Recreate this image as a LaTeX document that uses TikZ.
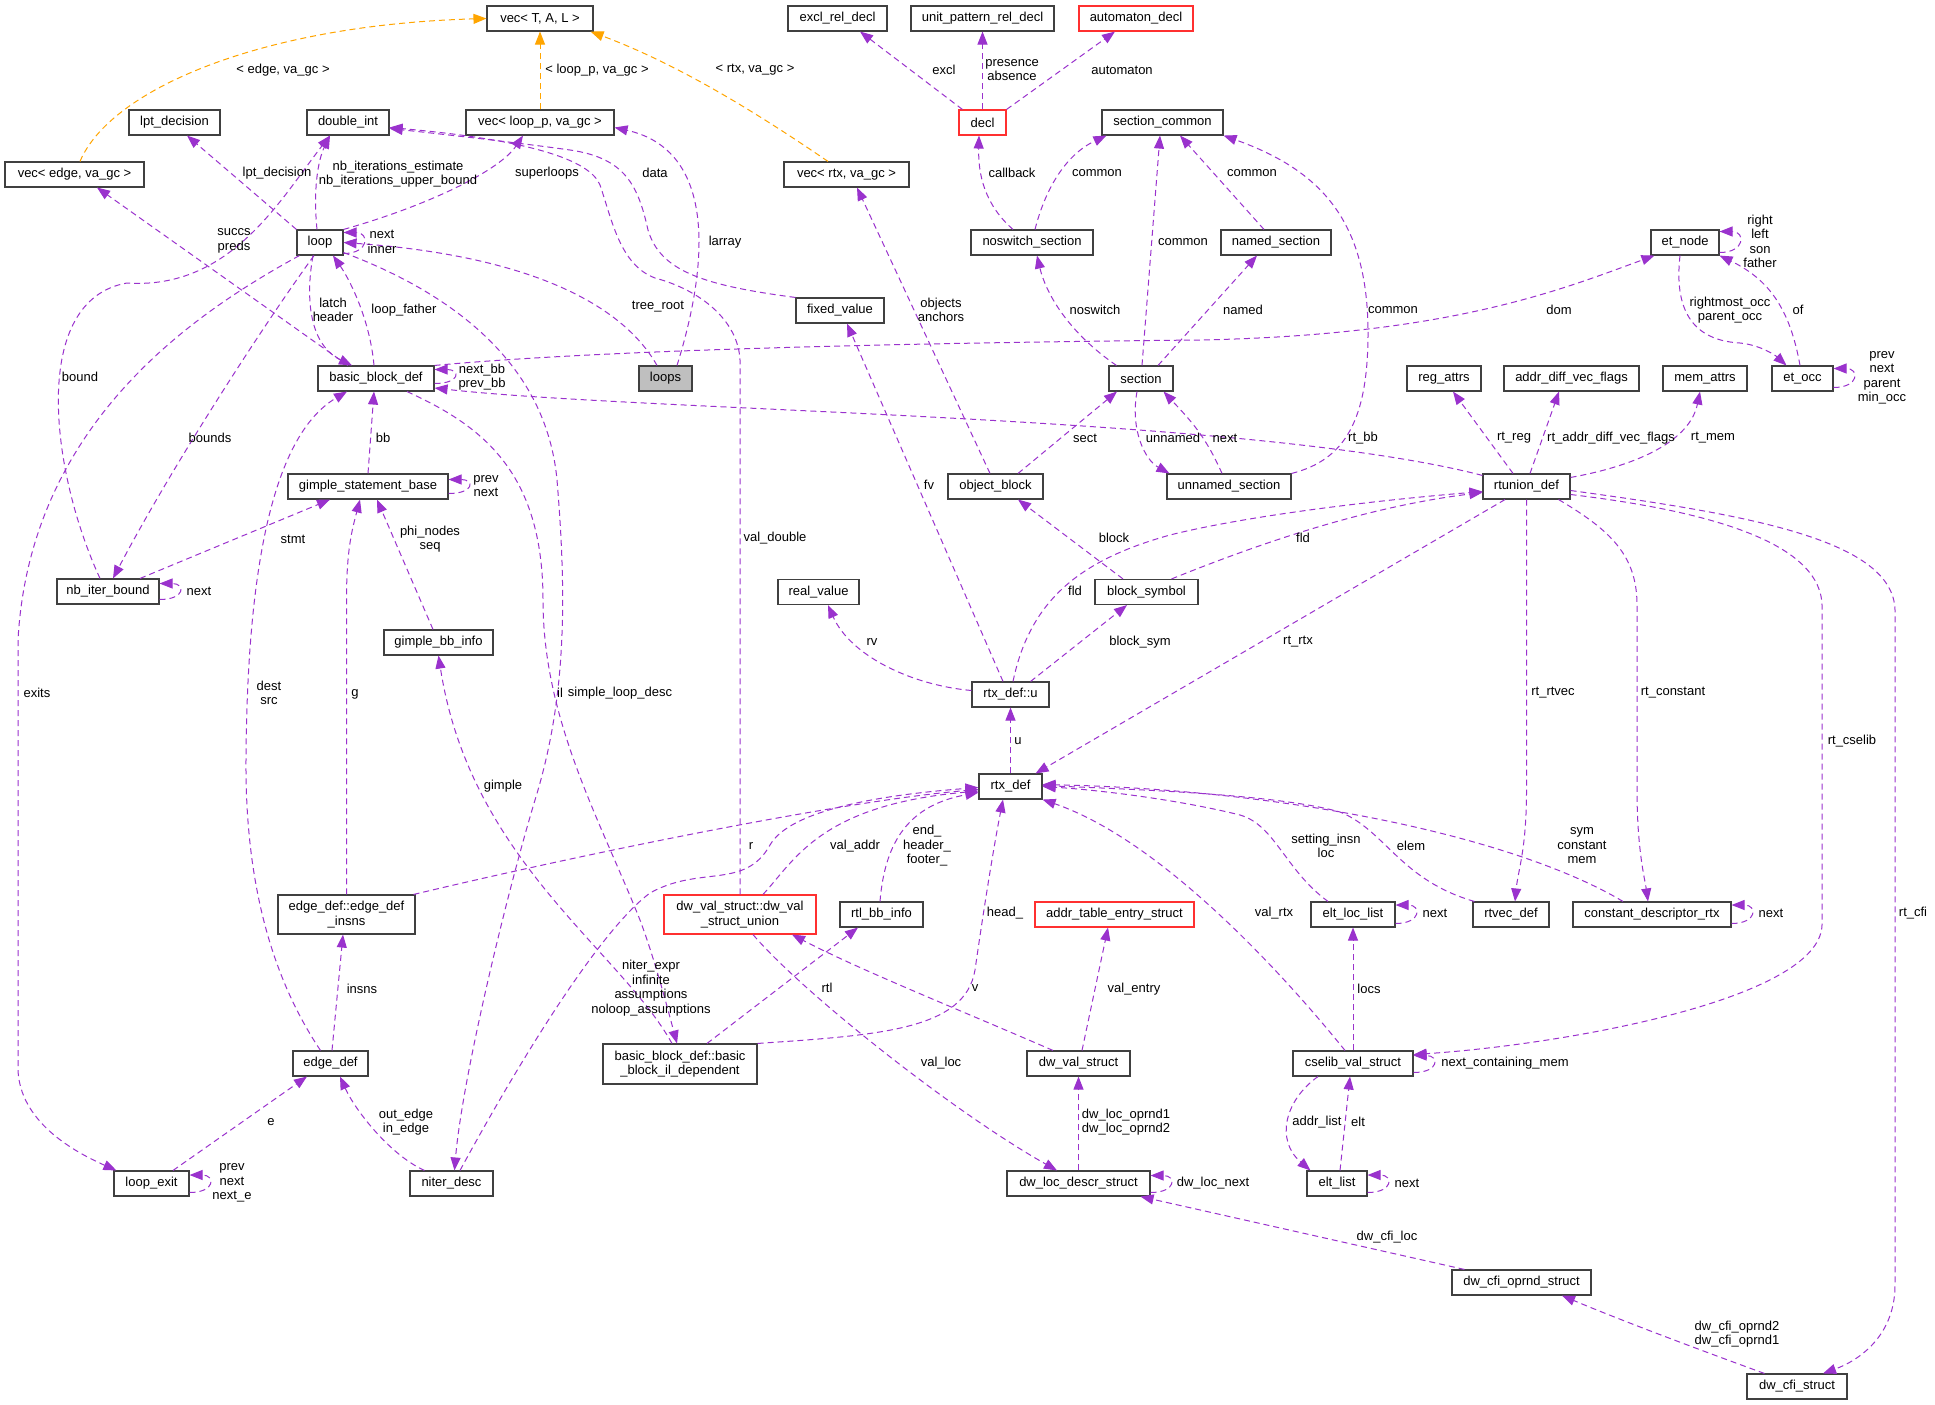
\documentclass[tikz,border=0pt]{standalone}
\usepackage{fontspec}
\setmainfont{Liberation Sans}
\usetikzlibrary{arrows.meta}
\definecolor{relpurple}{HTML}{9A32CD}
\definecolor{tmplorange}{HTML}{FFA500}
\definecolor{boxgray}{HTML}{404040}
\definecolor{boxred}{HTML}{FF3030}
\definecolor{rootgray}{HTML}{BFBFBF}
\newcommand\dgfont{\fontsize{13pt}{14.5pt}\selectfont}
\begin{document}
\begin{tikzpicture}[x=1pt,y=-1pt,
  cls/.style={draw=boxgray, line width=1.1pt, fill=white, inner sep=0pt, minimum height=25pt, align=center, font=\dgfont},
  redcls/.style={cls, draw=boxred},
  rel/.style={draw=relpurple, line width=1pt, dash pattern=on 6pt off 4pt, -{Triangle[length=13pt,width=10pt]}},
  tmpl/.style={rel, draw=tmplorange},
  lbl/.style={inner sep=0pt, align=center, font=\dgfont}]
\useasboundingbox[fill=white] (0,0) rectangle (1935,1405);

% ---------- nodes ----------
\node[cls, minimum width=106pt] (vecTAL) at (540,18.5) {vec< T, A, L >};
\node[cls, minimum width=99pt] (excl) at (837.5,18.5) {excl\_rel\_decl};
\node[cls, minimum width=143pt] (unitpat) at (982.5,18.5) {unit\_pattern\_rel\_decl};
\node[redcls, minimum width=114pt] (autom) at (1136,18.5) {automaton\_decl};
\node[cls, minimum width=91pt] (lpt) at (174.5,122.5) {lpt\_decision};
\node[cls, minimum width=82pt] (dint) at (348,122.5) {double\_int};
\node[cls, minimum width=148pt] (vecloop) at (540,122.5) {vec< loop\_p, va\_gc >};
\node[redcls, minimum width=47pt] (decl) at (982.5,122.5) {decl};
\node[cls, minimum width=121pt] (seccom) at (1162.5,122.5) {section\_common};
\node[cls, minimum width=139pt] (vecedge) at (74.5,174.5) {vec< edge, va\_gc >};
\node[cls, minimum width=125pt] (vecrtx) at (846.5,174.5) {vec< rtx, va\_gc >};
\node[cls, minimum width=46pt] (loop) at (320,242.5) {loop};
\node[cls, minimum width=122pt] (noswitch) at (1032,242.5) {noswitch\_section};
\node[cls, minimum width=110pt] (named) at (1276,242.5) {named\_section};
\node[cls, minimum width=68pt] (etnode) at (1685,242.5) {et\_node};
\node[cls, minimum width=88pt] (fixed) at (840,310.5) {fixed\_value};
\node[cls, minimum width=116pt] (bbd) at (376,378.5) {basic\_block\_def};
\node[cls, fill=rootgray, minimum width=53pt] (loops) at (665.5,378.5) {loops};
\node[cls, minimum width=64pt] (section) at (1141,378.5) {section};
\node[cls, minimum width=74pt] (regattrs) at (1444,378.5) {reg\_attrs};
\node[cls, minimum width=135pt] (addrdiff) at (1571.5,378.5) {addr\_diff\_vec\_flags};
\node[cls, minimum width=84pt] (memattrs) at (1705,378.5) {mem\_attrs};
\node[cls, minimum width=61pt] (etocc) at (1802.5,378.5) {et\_occ};
\node[cls, minimum width=160pt] (gsb) at (368,486.5) {gimple\_statement\_base};
\node[cls, minimum width=95pt] (objblock) at (995.5,486.5) {object\_block};
\node[cls, minimum width=124pt] (unnamed) at (1229,486.5) {unnamed\_section};
\node[cls, minimum width=87pt] (rtunion) at (1526.5,486.5) {rtunion\_def};
\node[cls, minimum width=102pt] (nbiter) at (108,591.5) {nb\_iter\_bound};
\node[cls, minimum width=81pt] (realval) at (818.5,592) {real\_value};
\node[cls, minimum width=103pt] (blocksym) at (1146.5,592) {block\_symbol};
\node[cls, minimum width=109pt] (gbbinfo) at (438.5,642.5) {gimple\_bb\_info};
\node[cls, minimum width=77pt] (rtxu) at (1010.5,694.5) {rtx\_def::u};
\node[cls, minimum width=63pt] (rtxdef) at (1010.5,786.5) {rtx\_def};
\node[cls, minimum width=137pt, minimum height=39pt] (edinsns) at (346.5,914.5) {edge\_def::edge\_def\\\_insns};
\node[redcls, minimum width=152pt, minimum height=39pt] (dwunion) at (740,914.5) {dw\_val\_struct::dw\_val\\\_struct\_union};
\node[cls, minimum width=83pt] (rtlbb) at (881.5,914.5) {rtl\_bb\_info};
\node[redcls, minimum width=159pt] (addrtab) at (1114.5,914.5) {addr\_table\_entry\_struct};
\node[cls, minimum width=84pt] (eltloc) at (1353,914.5) {elt\_loc\_list};
\node[cls, minimum width=76pt] (rtvec) at (1511,914.5) {rtvec\_def};
\node[cls, minimum width=158pt] (constdesc) at (1652,914.5) {constant\_descriptor\_rtx};
\node[cls, minimum width=75pt] (edgedef) at (330.5,1063.5) {edge\_def};
\node[cls, minimum width=154pt, minimum height=40pt] (bbil) at (680,1064) {basic\_block\_def::basic\\\_block\_il\_dependent};
\node[cls, minimum width=103pt] (dwval) at (1078.5,1063.5) {dw\_val\_struct};
\node[cls, minimum width=120pt] (cselib) at (1353,1063.5) {cselib\_val\_struct};
\node[cls, minimum width=75pt] (loopexit) at (151.5,1183.5) {loop\_exit};
\node[cls, minimum width=83pt] (niter) at (451.5,1183.5) {niter\_desc};
\node[cls, minimum width=143pt] (dwloc) at (1078.5,1183.5) {dw\_loc\_descr\_struct};
\node[cls, minimum width=60pt] (eltlist) at (1337,1183.5) {elt\_list};
\node[cls, minimum width=139pt] (dwcfiop) at (1521.5,1282.5) {dw\_cfi\_oprnd\_struct};
\node[cls, minimum width=100pt] (dwcfi) at (1797,1386.5) {dw\_cfi\_struct};

% ---------- template edges ----------
\draw[tmpl] ([xshift=5.5pt]vecedge.north) .. controls (110,90) and (260,25) .. (vecTAL.west);
\draw[tmpl] (vecloop.north) -- (vecTAL.south);
\draw[tmpl] ([xshift=-18.5pt]vecrtx.north) .. controls (760,115) and (680,65) .. ([xshift=-3pt]vecTAL.south east);

% ---------- member edges ----------
\draw[rel] (loop.north west) -- ([xshift=12.5pt]lpt.south);
\draw[rel] ([xshift=-3pt]loop.north) .. controls (313,190) and (318,160) .. ([xshift=-18pt]dint.south);
\draw[rel] ([xshift=-8pt]nbiter.north) .. controls (50,470) and (30,300) .. (127,283) .. controls (230,290) and (280,200) .. ([xshift=-18pt]dint.south);
\draw[rel] (loop.north east) .. controls (430,205) and (500,170) .. ([xshift=-17pt]vecloop.south);
\draw[rel] (fixed.north west) .. controls (700,285) and (660,270) .. (648,230) .. controls (638,185) and (625,158) .. (570,150) .. controls (520,143) and (450,135) .. ([yshift=-6pt]dint.east);
\draw[rel] (dwunion.north) -- (740,360) .. controls (738,320) and (700,290) .. (655,278) .. controls (620,265) and (612,220) .. (600,185) .. controls (590,160) and (530,140) .. ([yshift=-5pt]dint.east);
\draw[rel] ([xshift=11.5pt]loops.north) .. controls (710,260) and (715,150) .. ([yshift=-5pt]vecloop.east);
\draw[rel] ([xshift=-8.5pt]loops.north) .. controls (620,300) and (520,255) .. (loop.east);
\draw[rel] ([yshift=-11pt]loop.east) .. controls +(26,0) and +(26,0) .. ([yshift=10pt]loop.east);
\draw[rel] ([xshift=-7pt]loop.south) .. controls (305,300) and (310,345) .. ([xshift=-24pt]bbd.north);
\draw[rel] ([xshift=-2pt]bbd.north) .. controls (370,320) and (350,280) .. ([xshift=13pt]loop.south);
\draw[rel] ([xshift=-28pt]bbd.north) -- ([xshift=22.5pt]vecedge.south);
\draw[rel] ([yshift=-5pt]bbd.east) .. controls +(26,0) and +(26,0) .. ([yshift=9pt]bbd.east);
\draw[rel] ([yshift=-2pt]rtunion.north west) .. controls (1250,415) and (650,412) .. ([yshift=-9.5pt]bbd.east);
\draw[rel] (bbd.north east) .. controls (600,350) and (900,343) .. (1200,340) .. controls (1450,335) and (1560,290) .. ([xshift=4pt]etnode.south west);
\draw[rel] (gsb.north) -- ([xshift=-2pt]bbd.south);
\draw[rel] ([xshift=-6pt]loop.south) .. controls (260,330) and (170,470) .. ([xshift=5pt]nbiter.north);
\draw[rel] ([xshift=3pt]loop.south west) .. controls (200,310) and (30,420) .. (18,640) -- (18,1070) .. controls (20,1120) and (70,1150) .. ([xshift=3pt]loopexit.north west);
\draw[rel] ([xshift=32pt]nbiter.north) -- ([xshift=-38pt]gsb.south);
\draw[rel] ([yshift=-7pt]gsb.east) .. controls +(26,0) and +(26,0) .. ([yshift=7pt]gsb.east);
\draw[rel] ([yshift=-8pt]nbiter.east) .. controls +(26,0) and +(26,0) .. ([yshift=8pt]nbiter.east);
\draw[rel] ([xshift=-10pt]edgedef.north) .. controls (280,990) and (245,900) .. (246,760) .. controls (247,600) and (265,440) .. ([xshift=-29pt]bbd.south);
\draw[rel] ([xshift=1.5pt]edgedef.north) -- ([xshift=-3.5pt]edinsns.south);
\draw[rel] (edinsns.north) -- (346.5,600) .. controls (346.5,550) and (352,530) .. ([xshift=-8pt]gsb.south);
\draw[rel] ([xshift=-2pt]edinsns.north east) .. controls (600,850) and (850,800) .. ([yshift=-3pt]rtxdef.west);
\draw[rel] ([xshift=-5.5pt]gbbinfo.north) -- ([xshift=9pt]gsb.south);
\draw[rel] ([xshift=-8pt]bbil.north) .. controls (620,950) and (470,860) .. (gbbinfo.south);
\draw[rel] ([xshift=31pt]bbd.south) .. controls (480,425) and (543,470) .. (543,600) .. controls (543,720) and (600,820) .. (640,920) .. controls (655,960) and (668,1010) .. ([xshift=-3pt]bbil.north);
\draw[rel] ([yshift=3pt]loop.south east) .. controls (430,285) and (545,350) .. (557,480) .. controls (567,600) and (566,700) .. (535,800) .. controls (505,900) and (462,1080) .. ([xshift=3pt]niter.north);
\draw[rel] ([xshift=-27pt]niter.north) .. controls (390,1155) and (355,1110) .. ([xshift=9.5pt]edgedef.south);
\draw[rel] ([xshift=8.5pt]niter.north) .. controls (520,1060) and (600,930) .. (650,893) .. controls (700,865) and (745,890) .. (770,845) .. controls (790,810) and (880,795) .. ([yshift=-1pt]rtxdef.west);
\draw[rel] ([xshift=27pt]bbil.north) -- ([xshift=-23.5pt]rtlbb.south);
\draw[rel] (bbil.north east) .. controls (880,1035) and (965,1030) .. (975,970) .. controls (985,900) and (995,840) .. ([xshift=-7.5pt]rtxdef.south);
\draw[rel] ([xshift=-1.5pt]rtlbb.north) .. controls (885,840) and (910,805) .. ([yshift=-6pt]rtxdef.west);
\draw[rel] ([xshift=23pt]dwunion.north) .. controls (795,860) and (820,805) .. ([yshift=-4.5pt]rtxdef.west);
\draw[rel] ([xshift=13pt]dwunion.south) .. controls (800,990) and (950,1110) .. ([xshift=-21.5pt]dwloc.north);
\draw[rel] ([xshift=-25.5pt]dwval.north) .. controls (960,1010) and (860,970) .. ([xshift=52pt]dwunion.south);
\draw[rel] ([xshift=3.5pt]dwval.north) -- ([xshift=-6.5pt]addrtab.south);
\draw[rel] (dwloc.north) -- (dwval.south);
\draw[rel] ([yshift=-9pt]dwloc.east) .. controls +(26,0) and +(26,0) .. ([yshift=8pt]dwloc.east);
\draw[rel] ([xshift=13pt]dwcfiop.north west) -- ([xshift=-10pt]dwloc.south east);
\draw[rel] ([xshift=18pt]dwcfi.north west) .. controls (1700,1350) and (1620,1320) .. ([xshift=40.5pt]dwcfiop.south);
\draw[rel] ([yshift=-4pt]rtunion.east) .. controls (1750,515) and (1893,540) .. (1895,610) -- (1895,1285) .. controls (1895,1335) and (1860,1360) .. ([xshift=26pt]dwcfi.north);
\draw[rel] ([yshift=-8pt]rtunion.east) .. controls (1700,510) and (1820,540) .. (1822,605) -- (1822,925) .. controls (1820,1000) and (1560,1045) .. ([yshift=9pt]cselib.east);
\draw[rel] ([yshift=-9pt]cselib.east) .. controls +(26,0) and +(26,0) .. ([yshift=8pt]cselib.east);
\draw[rel] ([xshift=-8pt]cselib.north) .. controls (1280,970) and (1160,840) .. (rtxdef.south east);
\draw[rel] (cselib.north) -- (eltloc.south);
\draw[rel] ([xshift=-35pt]cselib.south) .. controls (1285,1100) and (1275,1140) .. ([xshift=4pt]eltlist.north west);
\draw[rel] ([xshift=3pt]eltlist.north) -- ([xshift=-3pt]cselib.south);
\draw[rel] ([yshift=-9pt]eltlist.east) .. controls +(26,0) and +(26,0) .. ([yshift=8.5pt]eltlist.east);
\draw[rel] ([yshift=-9pt]eltloc.east) .. controls +(26,0) and +(26,0) .. ([yshift=9.5pt]eltloc.east);
\draw[rel] ([xshift=-25pt]eltloc.north) .. controls (1285,870) and (1275,825) .. (1240,815) .. controls (1180,800) and (1100,790) .. (rtxdef.east);
\draw[rel] ([xshift=2pt]rtvec.north west) .. controls (1400,880) and (1385,830) .. (1340,812) .. controls (1280,795) and (1150,790) .. ([yshift=1pt]rtxdef.east);
\draw[rel] ([xshift=-29pt]constdesc.north) .. controls (1520,840) and (1300,790) .. ([yshift=2pt]rtxdef.east);
\draw[rel] ([yshift=-9pt]constdesc.east) .. controls +(26,0) and +(26,0) .. ([yshift=9.5pt]constdesc.east);
\draw[rel] (rtunion.south) -- (1526.5,790) .. controls (1526.5,850) and (1518,870) .. ([xshift=4pt]rtvec.north);
\draw[rel] ([xshift=-12pt]rtunion.south east) .. controls (1610,530) and (1637,555) .. (1637,605) -- (1637,790) .. controls (1637,850) and (1645,880) .. ([xshift=-4pt]constdesc.north);
\draw[rel] ([xshift=-21.5pt]rtunion.south) -- ([xshift=-7pt]rtxdef.north east);
\draw[rel] (rtxdef.north) -- (rtxu.south);
\draw[rel] ([xshift=2.5pt]rtxu.north) .. controls (1030,600) and (1080,560) .. (1170,535) .. controls (1250,515) and (1380,500) .. ([yshift=-5pt]rtunion.west);
\draw[rel] ([xshift=25pt]blocksym.north) .. controls (1280,535) and (1380,505) .. ([yshift=-6pt]rtunion.west);
\draw[rel] ([xshift=-19pt]rtxu.north east) -- ([xshift=-19.5pt]blocksym.south);
\draw[rel] ([yshift=4pt]rtxu.west) .. controls (910,685) and (850,655) .. ([xshift=9.5pt]realval.south);
\draw[rel] ([xshift=-7.5pt]rtxu.north) -- ([xshift=7pt]fixed.south);
\draw[rel] ([xshift=-23.5pt]blocksym.north) -- ([xshift=22.5pt]objblock.south);
\draw[rel] ([xshift=22.5pt]objblock.north) -- ([xshift=-24pt]section.south);
\draw[rel] ([xshift=-5.5pt]objblock.north) -- ([xshift=10.5pt]vecrtx.south);
\draw[rel] ([xshift=8pt]section.north west) .. controls (1065,330) and (1045,290) .. ([xshift=5pt]noswitch.south);
\draw[rel] ([xshift=1pt]section.north) -- ([xshift=-2.5pt]seccom.south);
\draw[rel] ([xshift=17pt]section.north) -- ([xshift=-19pt]named.south);
\draw[rel] ([xshift=-4pt]section.south) .. controls (1130,430) and (1145,460) .. ([xshift=3pt]unnamed.north west);
\draw[rel] ([xshift=-7pt]unnamed.north) .. controls (1205,435) and (1190,420) .. ([xshift=-10pt]section.south east);
\draw[rel] (unnamed.north east) .. controls (1345,460) and (1368,420) .. (1368,333) .. controls (1368,220) and (1320,170) .. (seccom.south east);
\draw[rel] ([xshift=-12pt]named.north) -- ([xshift=17.5pt]seccom.south);
\draw[rel] ([xshift=3pt]noswitch.north) .. controls (1045,190) and (1065,155) .. ([xshift=5pt]seccom.south west);
\draw[rel] ([xshift=-19pt]noswitch.north) .. controls (985,205) and (978,175) .. ([xshift=-3.5pt]decl.south);
\draw[rel] ([xshift=4pt]decl.north west) -- ([xshift=22.5pt]excl.south);
\draw[rel] (decl.north) -- (unitpat.south);
\draw[rel] (decl.north east) -- ([xshift=-21pt]autom.south);
\draw[rel] ([yshift=-10pt]etnode.east) .. controls +(26,0) and +(26,0) .. ([yshift=11pt]etnode.east);
\draw[rel] ([xshift=-5pt]etnode.south) .. controls (1675,300) and (1685,340) .. (1740,343) .. controls (1760,345) and (1775,355) .. ([xshift=15pt]etocc.north west);
\draw[rel] ([xshift=-2.5pt]etocc.north) .. controls (1790,310) and (1770,280) .. (etnode.south east);
\draw[rel] ([yshift=-9pt]etocc.east) .. controls +(26,0) and +(26,0) .. ([yshift=10pt]etocc.east);
\draw[rel] ([xshift=-13.5pt]rtunion.north) -- ([xshift=9pt]regattrs.south);
\draw[rel] ([xshift=3.5pt]rtunion.north) -- ([xshift=-12.5pt]addrdiff.south);
\draw[rel] ([yshift=-4pt]rtunion.north east) .. controls (1640,465) and (1690,440) .. ([xshift=-5pt]memattrs.south);
\draw[rel] ([xshift=21.5pt]loopexit.north) -- ([xshift=-23.5pt]edgedef.south);
\draw[rel] ([yshift=-9pt]loopexit.east) .. controls +(26,0) and +(26,0) .. ([yshift=8.5pt]loopexit.east);

% ---------- labels ----------
\node[lbl] (l01) at (283,70) {< edge, va\_gc >};
\node[lbl] (l02) at (597,70) {< loop\_p, va\_gc >};
\node[lbl] (l03) at (755,70) {< rtx, va\_gc >};
\node[lbl] (l04) at (944,70) {excl};
\node[lbl] (l05) at (1012,70) {presence\\absence};
\node[lbl] (l06) at (1122,70) {automaton};
\node[lbl] (l07) at (277,173) {lpt\_decision};
\node[lbl] (l08) at (398,174) {nb\_iterations\_estimate\\nb\_iterations\_upper\_bound};
\node[lbl] (l09) at (547,173) {superloops};
\node[lbl] (l10) at (655,173) {data};
\node[lbl] (l11) at (1012,173) {callback};
\node[lbl] (l12) at (1097,173) {common};
\node[lbl] (l13) at (1252,173) {common};
\node[lbl] (l14) at (234,241) {succs\\preds};
\node[lbl] (l15) at (382,242) {next\\inner};
\node[lbl] (l16) at (725,242) {larray};
\node[lbl] (l17) at (1183,242) {common};
\node[lbl] (l18) at (1760,241.5) {right\\left\\son\\father};
\node[lbl] (l19) at (333,310) {latch\\header};
\node[lbl] (l20) at (404,310) {loop\_father};
\node[lbl] (l21) at (658,307) {tree\_root};
\node[lbl] (l22) at (941,310) {objects\\anchors};
\node[lbl] (l23) at (1095,310) {noswitch};
\node[lbl] (l24) at (1243,310) {named};
\node[lbl] (l25) at (1393,310) {common};
\node[lbl] (l26) at (1559,310) {dom};
\node[lbl] (l27) at (1730,310) {rightmost\_occ\\parent\_occ};
\node[lbl] (l28) at (1798,310) {of};
\node[lbl] (l29) at (80,377) {bound};
\node[lbl] (l30) at (482,377) {next\_bb\\prev\_bb};
\node[lbl] (l31) at (1882,378) {prev\\next\\parent\\min\_occ};
\node[lbl] (l32) at (210,438) {bounds};
\node[lbl] (l33) at (383,438) {bb};
\node[lbl] (l34) at (1085,438) {sect};
\node[lbl] (l35) at (1173,438) {unnamed};
\node[lbl] (l36) at (1225,438) {next};
\node[lbl] (l37) at (1363,438) {rt\_bb};
\node[lbl] (l38) at (1514,438) {rt\_reg};
\node[lbl] (l39) at (1611,438) {rt\_addr\_diff\_vec\_flags};
\node[lbl] (l40) at (1713,438) {rt\_mem};
\node[lbl] (l41) at (929,485) {fv};
\node[lbl] (l42) at (486,486) {prev\\next};
\node[lbl] (l43) at (293,539) {stmt};
\node[lbl] (l44) at (430,539) {phi\_nodes\\seq};
\node[lbl] (l45) at (775,538) {val\_double};
\node[lbl] (l46) at (1114,538) {block};
\node[lbl] (l47) at (1303,538) {fld};
\node[lbl] (l48) at (199,591) {next};
\node[lbl] (l49) at (1075,591) {fld};
\node[lbl] (l50) at (872,642) {rv};
\node[lbl] (l51) at (1140,642) {block\_sym};
\node[lbl] (l52) at (1298,642) {rt\_rtx};
\node[lbl] (l53) at (37,693) {exits};
\node[lbl] (l54) at (269,693) {dest\\src};
\node[lbl] (l55) at (355,694) {g};
\node[lbl] (l56) at (560,693) {il};
\node[lbl] (l57) at (620,693) {simple\_loop\_desc};
\node[lbl] (l58) at (1553,693) {rt\_rtvec};
\node[lbl] (l59) at (1673,693) {rt\_constant};
\node[lbl] (l60) at (1018,741) {u};
\node[lbl] (l61) at (1852,741) {rt\_cselib};
\node[lbl] (l62) at (503,786) {gimple};
\node[lbl] (l63) at (751,846) {r};
\node[lbl] (l64) at (855,846) {val\_addr};
\node[lbl] (l65) at (927,846) {end\_\\header\_\\footer\_};
\node[lbl] (l66) at (1326,846) {setting\_insn\\loc};
\node[lbl] (l67) at (1411,846) {elem};
\node[lbl] (l68) at (1582,846) {sym\\constant\\mem};
\node[lbl] (l69) at (1005,913) {head\_};
\node[lbl] (l70) at (1274,913) {val\_rtx};
\node[lbl] (l71) at (1435,913) {next};
\node[lbl] (l72) at (1771,913) {next};
\node[lbl] (l73) at (1913,913) {rt\_cfi};
\node[lbl] (l74) at (362,989) {insns};
\node[lbl] (l75) at (651,988) {niter\_expr\\infinite\\assumptions\\noloop\_assumptions};
\node[lbl] (l76) at (827,988) {rtl};
\node[lbl] (l77) at (975,988) {v};
\node[lbl] (l78) at (1134,989) {val\_entry};
\node[lbl] (l79) at (1369,989) {locs};
\node[lbl] (l80) at (941,1063) {val\_loc};
\node[lbl] (l81) at (1505,1063) {next\_containing\_mem};
\node[lbl] (l82) at (406,1122) {out\_edge\\in\_edge};
\node[lbl] (l83) at (271,1122) {e};
\node[lbl] (l84) at (1126,1122) {dw\_loc\_oprnd1\\dw\_loc\_oprnd2};
\node[lbl] (l85) at (1317,1122) {addr\_list};
\node[lbl] (l86) at (1358,1122) {elt};
\node[lbl] (l87) at (232,1183) {prev\\next\\next\_e};
\node[lbl] (l88) at (1213,1183) {dw\_loc\_next};
\node[lbl] (l89) at (1407,1183) {next};
\node[lbl] (l90) at (1387,1237) {dw\_cfi\_loc};
\node[lbl] (l91) at (1737,1334) {dw\_cfi\_oprnd2\\dw\_cfi\_oprnd1};
\end{tikzpicture}
\end{document}
